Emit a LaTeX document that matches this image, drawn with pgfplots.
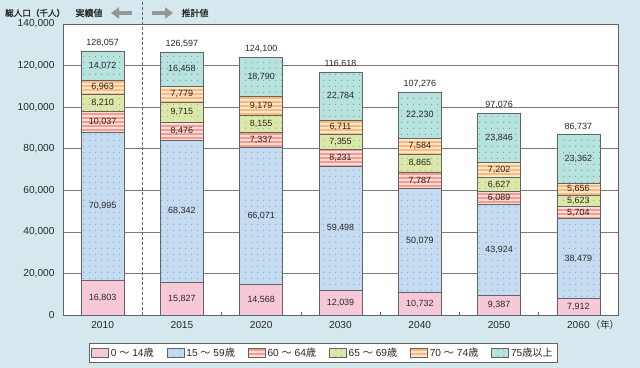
\documentclass[border=0pt]{standalone}
\usepackage{pgfplots}
\pgfplotsset{compat=1.18}
\usepackage{pgfplotstable}
\usepackage{fontspec}
\setmainfont{Liberation Sans}
\newfontfamily\jp{Noto Sans CJK JP}
\newfontfamily\jpb[FakeBold=1.4]{Noto Sans CJK JP}
\newcommand{\J}[1]{{\jp #1}}
\usetikzlibrary{patterns.meta,arrows.meta}

\definecolor{bg}{RGB}{212,232,238}
\definecolor{cA}{RGB}{246,200,216}
\definecolor{cB}{RGB}{197,220,240}
\definecolor{cBd}{RGB}{120,165,215}
\definecolor{cC}{RGB}{245,155,145}
\definecolor{cCl}{RGB}{253,222,214}
\definecolor{cD}{RGB}{220,232,170}
\definecolor{cDd}{RGB}{140,185,70}
\definecolor{cE}{RGB}{252,185,125}
\definecolor{cEl}{RGB}{254,230,200}
\definecolor{cF}{RGB}{184,226,222}
\definecolor{cFd}{RGB}{70,175,165}
\definecolor{edge}{RGB}{100,100,100}
\definecolor{txt}{RGB}{40,40,40}
\definecolor{arr}{RGB}{150,150,150}

\pgfplotstableread{
x a b c d e f
0 16803 70995 10037 8210 6963 14072
1 15827 68342 8476 9715 7779 16458
2 14568 66071 7337 8155 9179 18790
3 12039 59498 8231 7355 6711 22784
4 10732 50079 7787 8865 7584 22230
5 9387 43924 6089 6627 7202 23846
6 7912 38479 5704 5623 5656 23362
}\data

\pgfplotstableread{
x y v
0 8401.5 16803
0 52300.5 70995
0 92816.5 10037
0 101940 8210
0 109526.5 6963
0 120044 14072
1 7913.5 15827
1 49998 68342
1 88407 8476
1 97502.5 9715
1 106249.5 7779
1 118368 16458
2 7284 14568
2 47603.5 66071
2 84307.5 7337
2 92053.5 8155
2 100720.5 9179
2 114705 18790
3 6019.5 12039
3 41788 59498
3 75652.5 8231
3 83445.5 7355
3 90478.5 6711
3 105226 22784
4 5366 10732
4 35771.5 50079
4 64704.5 7787
4 73030.5 8865
4 81255 7584
4 96162 22230
5 4693.5 9387
5 31349 43924
5 56355.5 6089
5 62713.5 6627
5 69628 7202
5 85152 23846
6 3956 7912
6 27151.5 38479
6 49243 5704
6 54906.5 5623
6 60546 5656
6 75055 23362
}\labels

\pgfplotstableread{
x y v
0 127080 128057
1 126597 126597
2 124100 124100
3 116618 116618
4 107277 107276
5 97075 97076
6 86736 86737
}\totals

\pgfplotsset{
  mylegend/.style={legend image code/.code={\draw[##1,draw=edge,line width=0.6bp] (0bp,-4.5bp) rectangle (17bp,4.5bp);}},
  segA/.style={fill=cA, draw=edge, line width=0.7bp, mylegend},
  segB/.style={fill=cB, draw=edge, line width=0.7bp, postaction={pattern={Dots[distance=6bp,radius=0.6bp]}, pattern color=cBd}, mylegend},
  segC/.style={fill=cC, draw=edge, line width=0.7bp, postaction={pattern={Lines[angle=0,distance=4bp,line width=1.7bp]}, pattern color=cCl}, mylegend},
  segD/.style={fill=cD, draw=edge, line width=0.7bp, postaction={pattern={Dots[distance=6bp,radius=0.6bp]}, pattern color=cDd}, mylegend},
  segE/.style={fill=cE, draw=edge, line width=0.7bp, postaction={pattern={Lines[angle=0,distance=4bp,line width=1.7bp]}, pattern color=cEl}, mylegend},
  segF/.style={fill=cF, draw=edge, line width=0.7bp, postaction={pattern={Dots[distance=6bp,radius=0.6bp]}, pattern color=cFd}, mylegend},
}

\begin{document}
\begin{tikzpicture}
\useasboundingbox (0,0) rectangle (640bp,368bp);
\fill[bg] (0,0) rectangle (640bp,368bp);

\begin{axis}[
  at={(63bp,53bp)}, anchor=south west,
  scale only axis, width=555bp, height=291bp,
  ybar stacked, bar width=43bp,
  xmin=-0.5, xmax=6.5, ymin=0, ymax=140000,
  xtick={0,...,6}, xticklabels={2010,2015,2020,2030,2040,2050,2060},
  minor xtick={0.5,1.5,...,5.5},
  ytick={0,20000,...,140000},
  scaled y ticks=false,
  /pgf/number format/fixed,
  /pgf/number format/precision=0,
  /pgf/number format/assume math mode=true,
  /pgf/number format/1000 sep={,},
  ymajorgrids, grid style={draw=edge!85, line width=0.7bp},
  axis line style={draw=edge, line width=0.8bp},
  major tick length=0pt, minor tick length=3bp, tick align=inside,
  xtick pos=left,
  every minor tick/.style={draw=edge, line width=0.7bp},
  tick label style={font=\fontsize{10.2}{12}\selectfont, text=txt},
  xticklabel style={yshift=-3bp},
  yticklabel style={xshift=-5bp},
  axis background/.style={fill=white},
  clip=false,
  legend style={at={(0.4685,-0.1289)}, anchor=center, draw=edge, fill=white,
    font=\fontsize{10.2}{12}\selectfont, text=txt, legend columns=6,
    /tikz/every even column/.append style={column sep=11bp}, inner sep=2.5bp},
]
\addplot[segA] table[x=x,y=a]{\data};
\addplot[segB] table[x=x,y=b]{\data};
\addplot[segC] table[x=x,y=c]{\data};
\addplot[segD] table[x=x,y=d]{\data};
\addplot[segE] table[x=x,y=e]{\data};
\addplot[segF] table[x=x,y=f]{\data};
\legend{0 \J{～} 14\J{歳}, 15 \J{～} 59\J{歳}, 60 \J{～} 64\J{歳}, 65 \J{～} 69\J{歳}, 70 \J{～} 74\J{歳}, 75\J{歳以上}}
\draw[edge, line width=0.8bp, dash pattern=on 3bp off 2bp] (axis cs:0.5,0) -- (axis cs:0.5,151500);
\end{axis}

\begin{axis}[
  at={(63bp,53bp)}, anchor=south west,
  scale only axis, width=555bp, height=291bp,
  xmin=-0.5, xmax=6.5, ymin=0, ymax=140000,
  hide axis, clip=false,
  /pgf/number format/fixed,
  /pgf/number format/precision=0,
  /pgf/number format/assume math mode=true,
  /pgf/number format/1000 sep={,},
]
\addplot[draw=none, mark=none, point meta=explicit,
  nodes near coords={\pgfmathprintnumber{\pgfplotspointmeta}},
  every node near coord/.style={anchor=center, font=\fontsize{9}{10}\selectfont, text=txt}]
  table[x=x,y=y,meta=v]{\labels};
\addplot[draw=none, mark=none, point meta=explicit,
  nodes near coords={\pgfmathprintnumber{\pgfplotspointmeta}},
  every node near coord/.style={anchor=south, yshift=1bp, font=\fontsize{9}{10}\selectfont, text=txt}]
  table[x=x,y=y,meta=v]{\totals};
\end{axis}

\node[anchor=west, inner sep=0pt, font=\jpb\fontsize{8.6}{10}\selectfont, text=txt] at (5bp,355bp) {総人口（千人）};
\node[font=\jpb\fontsize{9}{11}\selectfont, text=txt] at (89bp,355bp) {実績値};
\node[font=\jpb\fontsize{9}{11}\selectfont, text=txt] at (195bp,355bp) {推計値};
\draw[arr, line width=4.5bp, -{Triangle[length=8bp,width=11bp]}] (132bp,355bp) -- (111bp,355bp);
\draw[arr, line width=4.5bp, -{Triangle[length=8bp,width=11bp]}] (152bp,355bp) -- (173bp,355bp);
\node[font=\jp\fontsize{9.5}{11}\selectfont, text=txt] at (605bp,43bp) {（年）};
\end{tikzpicture}
\end{document}
